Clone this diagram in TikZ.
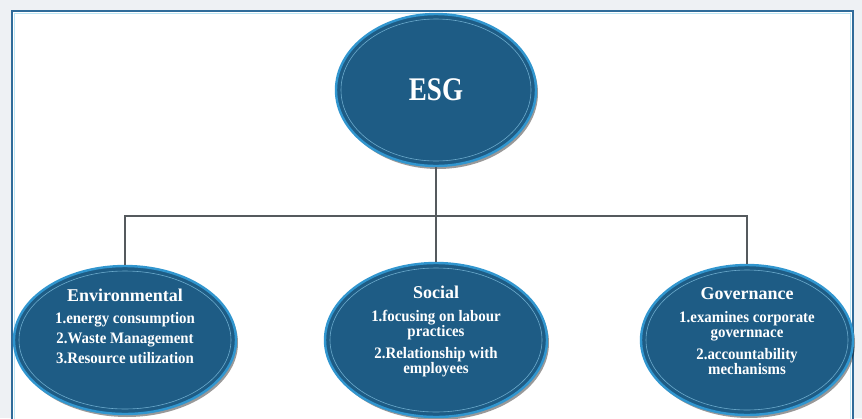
\documentclass[tikz,border=0pt]{standalone}
\usepackage{fontspec}
\setmainfont{Liberation Serif}
\newfontfamily\esgfont[FakeStretch=0.82]{Liberation Serif}
\newfontfamily\itemfont[FakeStretch=0.93]{Liberation Serif}
\usepackage{tikz}
\usetikzlibrary{shapes.geometric}
\usetikzlibrary{shadows}
\usetikzlibrary{positioning}

\definecolor{pagegrey}{HTML}{EEF1F4}
\definecolor{framblue}{HTML}{2F6B9A}
\definecolor{framline}{HTML}{BDE6F5}
\definecolor{pillfill}{HTML}{1E5C85}
\definecolor{pillrim}{HTML}{3196CF}
\definecolor{pillring}{HTML}{8CCBEA}
\definecolor{linkgrey}{HTML}{555A5E}

\newcommand{\headfont}{\rmfamily\fontsize{18}{20}\selectfont}

\tikzset{
	pill/.style={ellipse, inner sep=0pt, fill=pillfill, draw=pillrim, line width=2.4pt,
		drop shadow={shadow xshift=2pt, shadow yshift=-3pt, opacity=.4, fill=black}},
	ring/.style={draw=pillring, line width=.6pt, opacity=.7},
	link/.style={draw=linkgrey, line width=1.4pt},
	pilltext/.style={text=white, align=center, font=\itemfont\fontsize{16}{15}\selectfont\bfseries}
}

\begin{document}
\begin{tikzpicture}[x=1pt, y=-1pt]
	\useasboundingbox (0,0) rectangle (862,418);
	\fill[pagegrey] (0,0) rectangle (862,418);
	% frame
	\fill[white] (12,11) rectangle (853,430);
	\draw[framblue, line width=2pt] (12,430) -- (12,11) -- (853,11) -- (853,430);
	\draw[framline, line width=.8pt] (14.5,430) -- (14.5,13.5) -- (850.5,13.5) -- (850.5,430);

	% the four ellipses
	\node[pill, minimum width=200, minimum height=152] (esg) at (436,90) {};
	\node[pill, minimum width=222, minimum height=148] (env) at (125,340) {};
	\node[pill, minimum width=222, minimum height=154] (soc) at (436,340) {};
	\node[pill, minimum width=212, minimum height=150] (gov) at (747,340) {};
	\draw[ring] (esg.center) ellipse (95 and 71);
	\draw[ring] (env.center) ellipse (106 and 69);
	\draw[ring] (soc.center) ellipse (106 and 72);
	\draw[ring] (gov.center) ellipse (101 and 70);

	% connectors
	\coordinate (hub) at (436,216);
	\draw[link] (esg.south) -- (soc.north);
	\draw[link] (env.north) |- (hub) -| (gov.north);

	% texts
	\node[text=white, font=\esgfont\fontsize{33}{36}\selectfont\bfseries] (esgtxt) at (436,90) {ESG};
	\node[pilltext, font=\itemfont\fontsize{16}{20}\selectfont\bfseries] (envtxt) at (125,326)
		{{\headfont Environmental}\\[2pt]1.energy consumption\\2.Waste Management\\3.Resource utilization};
	\node[pilltext] (soctxt) at (436,331)
		{{\headfont Social}\\[8.5pt]1.focusing on labour\\practices\\[6.5pt]2.Relationship with\\employees};
	\node[pilltext] (govtxt) at (747,331)
		{{\headfont Governance}\\[8.5pt]1.examines corporate\\governnace\\[6.5pt]2.accountability\\mechanisms};
\end{tikzpicture}
\end{document}
